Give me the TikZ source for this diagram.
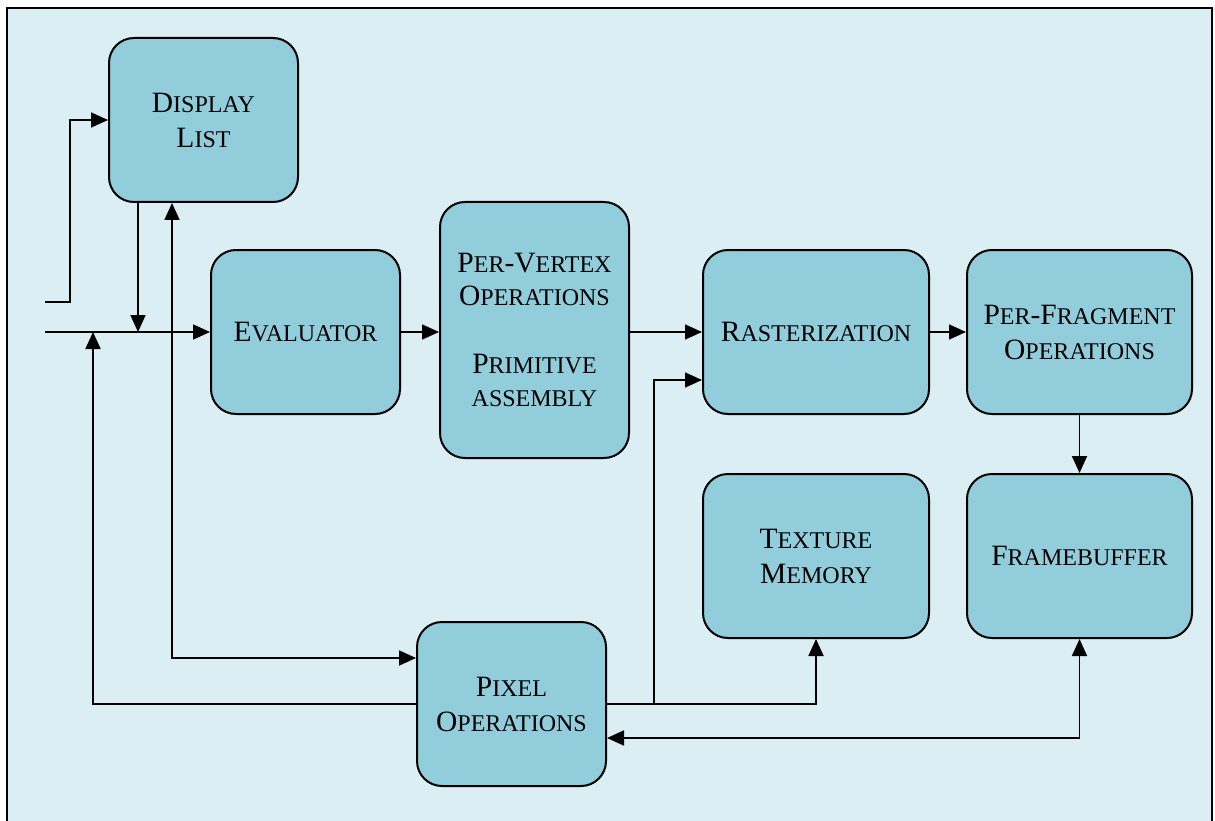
\documentclass[tikz,border=0pt]{standalone}
\usepackage{fontspec}
\setmainfont{Liberation Serif}
\usetikzlibrary{arrows.meta}
\definecolor{boxc}{HTML}{92CDDC}
\definecolor{bgc}{HTML}{DBEEF3}
\newcommand\sm[1]{{\fontsize{24}{35}\selectfont #1}}
\tikzset{
  box/.style={draw, line width=2pt, fill=boxc, rounded corners=25pt,
    align=center, inner sep=0pt, font=\fontsize{29.5}{35}\selectfont},
  arr/.style={line width=1.8pt, -{Triangle[length=17pt,width=15pt]}},
  darr/.style={line width=1.8pt, {Triangle[length=17pt,width=15pt]}-{Triangle[length=17pt,width=15pt]}},
  ln/.style={line width=1.8pt}
}
\begin{document}
\begin{tikzpicture}[x=1pt,y=-1pt]
\useasboundingbox (0,0) rectangle (1215,821);
\fill[bgc] (7,8) rectangle (1212,821);
\draw[line width=2pt] (7,821) -- (7,8) -- (1212,8) -- (1212,821);

\node[box, minimum width=189pt, minimum height=164pt] (dl) at (203.5,120)
  {D\sm{ISPLAY}\\L\sm{IST}};
\node[box, minimum width=189pt, minimum height=164pt] (ev) at (305.5,332)
  {E\sm{VALUATOR}};
\node[box, minimum width=189pt, minimum height=256pt,
  font=\fontsize{29.5}{33}\selectfont] (pv) at (534.5,330)
  {P\sm{ER}-V\sm{ERTEX}\\O\sm{PERATIONS}\\[35pt]P\sm{RIMITIVE}\\\sm{ASSEMBLY}};
\node[box, minimum width=226pt, minimum height=164pt] (ra) at (816,332)
  {R\sm{ASTERIZATION}};
\node[box, minimum width=225pt, minimum height=164pt] (pf) at (1079.5,332)
  {P\sm{ER}-F\sm{RAGMENT}\\O\sm{PERATIONS}};
\node[box, minimum width=226pt, minimum height=164pt] (tm) at (816,556)
  {T\sm{EXTURE}\\M\sm{EMORY}};
\node[box, minimum width=225pt, minimum height=164pt] (fb) at (1079.5,556)
  {F\sm{RAMEBUFFER}};
\node[box, minimum width=189pt, minimum height=164pt] (po) at (511.5,704)
  {P\sm{IXEL}\\O\sm{PERATIONS}};

\coordinate (in1) at (45,302);
\coordinate (in2) at (45,332);
\coordinate (j1) at (138,332);
\coordinate (j2) at (93,332);
\coordinate (c1) at (172,658);
\coordinate (c2) at (654,704);
\coordinate (rin) at (0,380);
\coordinate (c4) at (0,738);

\draw[arr] (in1) -- (70,302) |- (dl.west);
\draw[arr] (in2) -- (ev.west);
\draw[arr] (dl.south -| j1) -- (j1);
\draw[arr] (po.west) -| (j2);
\draw[darr] (dl.south -| c1) -- (c1) -- (po.west |- c1);
\draw[arr] (ev.east) -- (ev.east -| pv.west);
\draw[arr] (ra.west -| pv.east) -- (ra.west);
\draw[arr] (ra.east) -- (pf.west);
\draw[arr] (pf.south) -- (fb.north);
\draw[arr] (po.east) -| (tm.south);
\draw[arr] (c2) |- (ra.west |- rin);
\draw[darr] (fb.south) -- (fb.south |- c4) -- (po.east |- c4);
\end{tikzpicture}
\end{document}
